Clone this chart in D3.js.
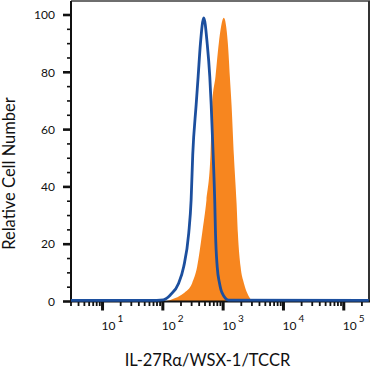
<!DOCTYPE html>
<html>
<head>
<meta charset="utf-8">
<script src="https://cdn.jsdelivr.net/npm/d3@7"></script>
<style>
  html, body { margin: 0; padding: 0; background: #fff; }
  svg { display: block; }
  text { font-family: Lato, "Open Sans", "Liberation Sans", sans-serif; fill: #111; }
</style>
</head>
<body>
<svg id="chart" width="370" height="372"></svg>
<script>
// ---- data ----
const controlX = [3, 61.9, 101.8, 133.2, 183, 221.6, 268.5, 294.3, 312.9, 356.5, 384.8, 420.3, 476.9, 543.3, 600.2, 633.3, 683.5, 726.8, 746.5, 797, 870.4, 965, 1229, 260000];
const controlY = [0.4, 0.4, 0.6, 2.3, 6.4, 12.1, 23.8, 35.4, 51.1, 68.6, 78.5, 90.1, 99.0, 90.1, 78.5, 68.6, 51.1, 34.3, 23.8, 12.1, 6.4, 2.9, 0.5, 0.4];
const stainedX = [109.9, 161.2, 221.6, 305.8, 370.3, 448.5, 529, 616.5, 658, 746.5, 847.2, 1026, 1196, 1291, 1378, 1505, 1669, 1755, 1946, 2208, 2516, 3046];
const stainedY = [0, 1.2, 2.9, 6.4, 12.1, 23.8, 35.4, 51.1, 68.6, 78.5, 90.1, 99.0, 90.1, 78.5, 68.6, 51.1, 34.3, 23.8, 12.1, 6.4, 2.9, 0];
const yTicks = [0, 20, 40, 60, 80, 100];
const xDecades = [1, 2, 3, 4, 5];
const xTitle = "IL-27Rα/WSX-1/TCCR";
const yTitle = "Relative Cell Number";

// ---- layout ----
const L = 71, R = 369, T = 1, B = 301.5;
const svg = d3.select("#chart");

const x = d3.scaleLog().domain([3, 262000]).range([L, R]);
const y = d3.scaleLinear().domain([0, 100]).range([B, 15]);

// stained (orange filled)
const stained = stainedX.map((v, i) => [v, stainedY[i]]);
svg.append("path")
  .datum(stained)
  .attr("fill", "#f7861f")
  .attr("d", d3.area().x(d => x(d[0])).y0(y(0)).y1(d => y(d[1])).curve(d3.curveMonotoneX));

// control (blue line)
const control = controlX.map((v, i) => [v, controlY[i]]);

// frame: top and right
svg.append("line").attr("x1", L).attr("x2", R + 1).attr("y1", T).attr("y2", T)
  .attr("stroke", "#6e6e6e").attr("stroke-width", 2);
svg.append("line").attr("x1", R).attr("x2", R).attr("y1", T).attr("y2", B)
  .attr("stroke", "#333").attr("stroke-width", 2);

// y axis
const yMinor = d3.range(0, 101, 5).filter(v => v % 20 !== 0);
const gy = svg.append("g");
gy.append("line").attr("x1", L).attr("x2", L).attr("y1", T).attr("y2", B + 1)
  .attr("stroke", "#111").attr("stroke-width", 2);
gy.selectAll(".ymaj").data(yTicks).join("line")
  .attr("x1", L - 8).attr("x2", L).attr("y1", d => y(d)).attr("y2", d => y(d))
  .attr("stroke", "#111").attr("stroke-width", 2.6);
gy.selectAll(".ymin").data(yMinor).join("line")
  .attr("x1", L - 4).attr("x2", L).attr("y1", d => y(d)).attr("y2", d => y(d))
  .attr("stroke", "#111").attr("stroke-width", 1.6);
gy.selectAll(".ylab").data(yTicks).join("text")
  .attr("x", 55).attr("y", d => y(d)).attr("dy", "0.35em")
  .attr("text-anchor", "end").attr("font-size", 12).text(d => d);

// x axis
const xMinor = [];
for (let e = 0; e <= 5; e++) for (let m = 2; m <= 9; m++) {
  const v = m * Math.pow(10, e);
  if (v >= 3 && v <= 262000) xMinor.push(v);
}
const gx = svg.append("g");
gx.append("line").attr("x1", L - 1).attr("x2", R + 1).attr("y1", B).attr("y2", B)
  .attr("stroke", "#111").attr("stroke-width", 2);
gx.selectAll(".xmin").data(xMinor).join("line")
  .attr("x1", d => x(d)).attr("x2", d => x(d)).attr("y1", B).attr("y2", B + 4.5)
  .attr("stroke", "#111").attr("stroke-width", 1.8);
gx.selectAll(".xmaj").data(xDecades).join("line")
  .attr("x1", d => x(Math.pow(10, d))).attr("x2", d => x(Math.pow(10, d)))
  .attr("y1", B).attr("y2", B + 9)
  .attr("stroke", "#111").attr("stroke-width", 3);
const xl = gx.selectAll(".xlab").data(xDecades).join("text")
  .attr("x", d => x(Math.pow(10, d)) - 1).attr("y", 330)
  .attr("font-size", 12);
xl.append("tspan").text("10");
xl.append("tspan").attr("dx", 2).attr("dy", -8).attr("font-size", 10).text(d => d);

// blue line on top
svg.append("path")
  .datum(control)
  .attr("fill", "none").attr("stroke", "#1c4f9e").attr("stroke-width", 2.8)
  .attr("stroke-linejoin", "round")
  .attr("d", d3.line().x(d => x(d[0])).y(d => y(d[1])).curve(d3.curveMonotoneX));

// titles
svg.append("text").attr("x", 207.5).attr("y", 366).attr("text-anchor", "middle")
  .attr("font-size", 16.5).text(xTitle);
svg.append("text").attr("transform", "translate(15,173.5) rotate(-90)")
  .attr("text-anchor", "middle").attr("font-size", 16.5).text(yTitle);
</script>
</body>
</html>
